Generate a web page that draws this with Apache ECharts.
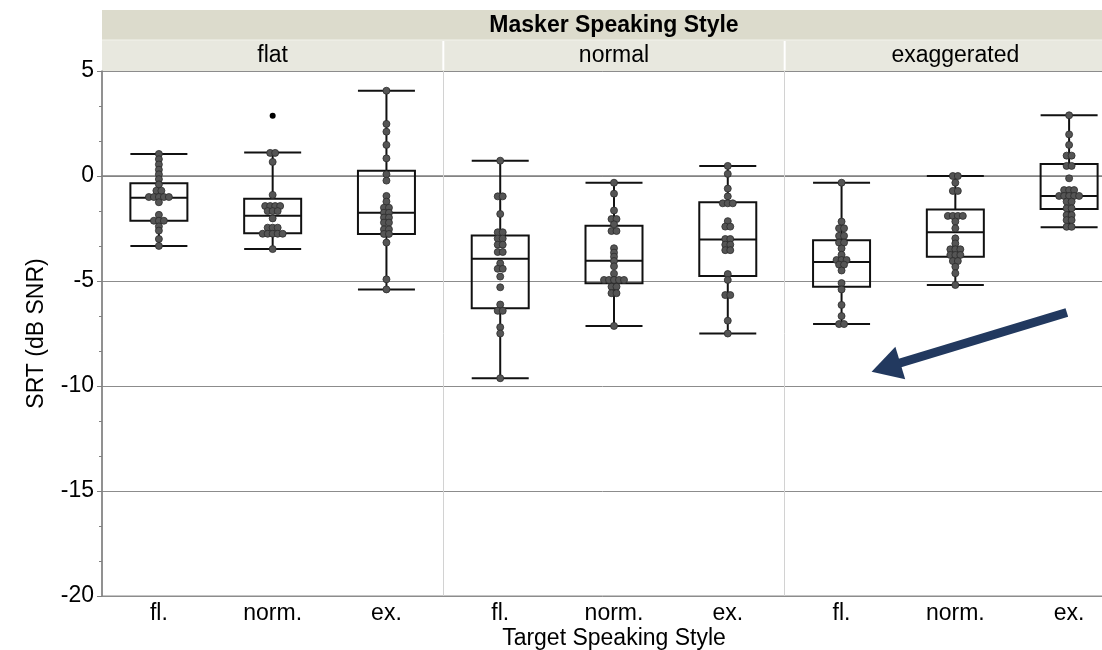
<!DOCTYPE html>
<html>
<head>
<meta charset="utf-8">
<script src="https://cdn.jsdelivr.net/npm/echarts@6/dist/echarts.min.js"></script>
<style>
  html, body { margin: 0; padding: 0; background: #fff; }
  #single { width: 1102px; height: 650px; }
</style>
</head>
<body>
<div id="single"></div>
<script>
// target style along x, masker style as panels on top
var categories = ['fl.', 'norm.', 'ex.', 'fl.', 'norm.', 'ex.', 'fl.', 'norm.', 'ex.'];
var panels = ['flat', 'normal', 'exaggerated'];
var yTicks = [5, 0, -5, -10, -15, -20];

// SRT per listener, one array per masker/target pair
var flatFl = [1.05, 0.8, 0.55, 0.3, 0.08, -0.15, -0.4, -0.7, -0.7, -1.0, -1.0, -1.0, -1.0, -1.0, -1.25, -1.85, -2.13, -2.13, -2.13, -2.4, -2.6, -3.0, -3.33];
var flatNorm = [1.1, 1.1, 0.67, -0.9, -1.43, -1.43, -1.43, -1.43, -1.67, -1.67, -1.67, -2.02, -2.46, -2.46, -2.46, -2.75, -2.75, -2.75, -2.75, -2.75, -3.48];
var flatEx = [4.06, 2.48, 2.11, 1.48, 0.84, 0.08, -0.22, -0.95, -1.22, -1.51, -1.51, -1.75, -1.75, -1.98, -1.98, -2.22, -2.22, -2.54, -2.54, -2.76, -2.76, -3.17, -4.92, -5.4];
var normalFl = [0.73, -0.97, -0.97, -1.81, -2.68, -2.68, -2.98, -2.98, -3.27, -3.27, -3.62, -3.62, -4.16, -4.42, -4.42, -4.79, -5.3, -6.12, -6.42, -6.42, -7.2, -7.5, -9.63];
var normalNorm = [-0.32, -0.84, -1.64, -2.05, -2.05, -2.3, -2.62, -2.62, -3.44, -3.65, -3.84, -4.05, -4.3, -4.65, -4.95, -4.95, -4.95, -4.95, -4.95, -5.27, -5.27, -5.58, -5.58, -7.14];
var normalEx = [0.48, 0.1, -0.6, -0.97, -1.3, -1.3, -1.3, -2.15, -2.41, -2.41, -3.0, -3.0, -3.27, -3.27, -3.53, -3.53, -4.67, -4.95, -5.67, -5.67, -6.89, -7.5];
var exagFl = [-0.32, -2.17, -2.49, -2.49, -2.85, -2.85, -3.17, -3.17, -3.45, -3.75, -4.0, -4.0, -4.0, -4.22, -4.22, -4.5, -5.1, -5.4, -6.14, -6.67, -7.05, -7.05];
var exagNorm = [0.0, 0.0, -0.32, -0.71, -0.71, -1.9, -1.9, -1.9, -1.9, -2.17, -2.49, -2.97, -3.21, -3.49, -3.49, -3.49, -3.76, -3.76, -3.76, -4.05, -4.05, -4.32, -4.63, -5.19];
var exagEx = [2.89, 1.98, 1.48, 0.97, 0.97, 0.48, 0.48, -0.11, -0.67, -0.67, -0.67, -0.95, -0.95, -0.95, -0.95, -0.95, -1.22, -1.22, -1.54, -1.54, -1.86, -1.86, -2.1, -2.1, -2.42, -2.42];

// [min, Q1, median, Q3, max] as drawn
var boxStats = [
  [-3.33, -2.13, -1.03, -0.35, 1.05],
  [-3.48, -2.73, -1.89, -1.08, 1.12],
  [-5.4, -2.76, -1.75, 0.25, 4.06],
  [-9.63, -6.3, -3.94, -2.83, 0.73],
  [-7.14, -5.11, -4.03, -2.37, -0.32],
  [-7.5, -4.76, -3.02, -1.25, 0.48],
  [-7.05, -5.27, -4.1, -3.06, -0.32],
  [-5.19, -3.84, -2.68, -1.59, 0.0],
  [-2.44, -1.57, -0.95, 0.57, 2.89]
];
var outliers = [[1, 2.87]];

// arrow: head at [x, y], tail at [x, y]
var arrowHead = [6.39, -9.11];
var arrowTail = [7.98, -6.5];

var groups = [flatFl, flatNorm, flatEx, normalFl, normalNorm, normalEx, exagFl, exagNorm, exagEx];

// the plot runs past the right edge of the picture (cropped original)
var gridLeft = 102, gridTop = 71, gridWidth = 1024, gridHeight = 525;
var font = '"Liberation Sans", Arial, sans-serif';

// simple row swarm: close values share a row, spread sideways
function swarm(idx, vals) {
  var dx = 5 / (gridWidth / categories.length);
  var sorted = vals.slice().sort(function (a, b) { return b - a; });
  var rows = [];
  sorted.forEach(function (v) {
    var last = rows[rows.length - 1];
    if (last && Math.abs(last[0] - v) < 0.12) last.push(v);
    else rows.push([v]);
  });
  var pts = [];
  rows.forEach(function (row) {
    var n = row.length;
    row.forEach(function (v, k) {
      pts.push([idx + (k - (n - 1) / 2) * dx, v]);
    });
  });
  return pts;
}

var dots = [];
groups.forEach(function (g, i) { dots = dots.concat(swarm(i, g)); });

var chart = echarts.init(document.getElementById('single'));

var panelW = gridWidth / panels.length;
var header = [
  { type: 'rect', shape: { x: gridLeft, y: 10, width: gridWidth, height: 30 }, style: { fill: '#dcdbcc' } },
  { type: 'rect', shape: { x: gridLeft, y: 40, width: gridWidth, height: 31 }, style: { fill: '#e8e8df' } },
  { type: 'line', shape: { x1: gridLeft, y1: 40, x2: gridLeft + gridWidth, y2: 40 }, style: { stroke: '#f2f2ec', lineWidth: 1 } },
  { type: 'text', x: gridLeft + gridWidth / 2, y: 26,
    style: { text: 'Masker Speaking Style', font: 'bold 23px ' + font, fill: '#000', align: 'center', verticalAlign: 'middle' } }
];
panels.forEach(function (p, i) {
  header.push({ type: 'text', x: gridLeft + panelW * (i + 0.5), y: 56,
    style: { text: p, font: '23px ' + font, fill: '#000', align: 'center', verticalAlign: 'middle' } });
  if (i > 0) {
    header.push({ type: 'line', shape: { x1: gridLeft + panelW * i, y1: 41, x2: gridLeft + panelW * i, y2: 70 },
      style: { stroke: '#ffffff', lineWidth: 2 } });
  }
});

chart.setOption({
  animation: false,
  textStyle: { fontFamily: font },
  graphic: header,
  grid: {
    left: gridLeft, top: gridTop, width: gridWidth, height: gridHeight,
    outerBoundsMode: 'none',
    show: true, borderColor: '#8a8a8a', borderWidth: 1
  },
  xAxis: [
    {
      type: 'category',
      data: categories,
      name: 'Target Speaking Style',
      nameLocation: 'middle',
      nameGap: 31,
      nameMoveOverlap: false,
      nameTextStyle: { fontSize: 23, color: '#000' },
      axisTick: { show: false },
      axisLine: { lineStyle: { color: '#808080', width: 1.5 } },
      axisLabel: { fontSize: 23, color: '#000', margin: 6 }
    },
    { type: 'value', min: -0.5, max: categories.length - 0.5, show: false }
  ],
  yAxis: {
    type: 'value',
    min: yTicks[yTicks.length - 1],
    max: yTicks[0],
    interval: yTicks[0] - yTicks[1],
    name: 'SRT (dB SNR)',
    nameLocation: 'middle',
    nameGap: 54,
    nameMoveOverlap: false,
    nameTextStyle: { fontSize: 23, color: '#000' },
    axisLine: { show: true, onZero: false, lineStyle: { color: '#808080', width: 1.5 } },
    axisTick: { show: true, length: 5, lineStyle: { color: '#808080' } },
    minorTick: { show: true, splitNumber: 3, length: 3, lineStyle: { color: '#808080' } },
    splitLine: { show: true, lineStyle: { color: '#8c8c8c', width: 1 } },
    axisLabel: { fontSize: 23, color: '#000', margin: 8 }
  },
  series: [
    {
      type: 'boxplot',
      xAxisIndex: 0,
      data: boxStats,
      boxWidth: [57, 57],
      silent: true,
      itemStyle: { color: 'rgba(0,0,0,0)', borderColor: '#111', borderWidth: 2 }
    },
    {
      type: 'scatter',
      xAxisIndex: 1,
      data: dots,
      symbolSize: 7,
      silent: true,
      z: 3,
      itemStyle: { color: '#555555', borderColor: '#2b2b2b', borderWidth: 0.8, opacity: 1 }
    },
    {
      type: 'scatter',
      xAxisIndex: 1,
      data: outliers,
      symbolSize: 6,
      silent: true,
      z: 3,
      itemStyle: { color: '#000', opacity: 1 },
      markLine: {
        silent: true,
        symbol: 'none',
        label: { show: false },
        lineStyle: { color: '#d2d2d2', width: 1, type: 'solid' },
        data: [
          { xAxis: 2.5 },
          { xAxis: 5.5 },
          [
            { coord: arrowHead, symbol: 'triangle', symbolSize: [34, 30],
              lineStyle: { color: '#22395f', width: 9, type: 'solid' }, itemStyle: { color: '#22395f' } },
            { coord: arrowTail, symbol: 'none' }
          ]
        ]
      }
    }
  ]
});
</script>
</body>
</html>
